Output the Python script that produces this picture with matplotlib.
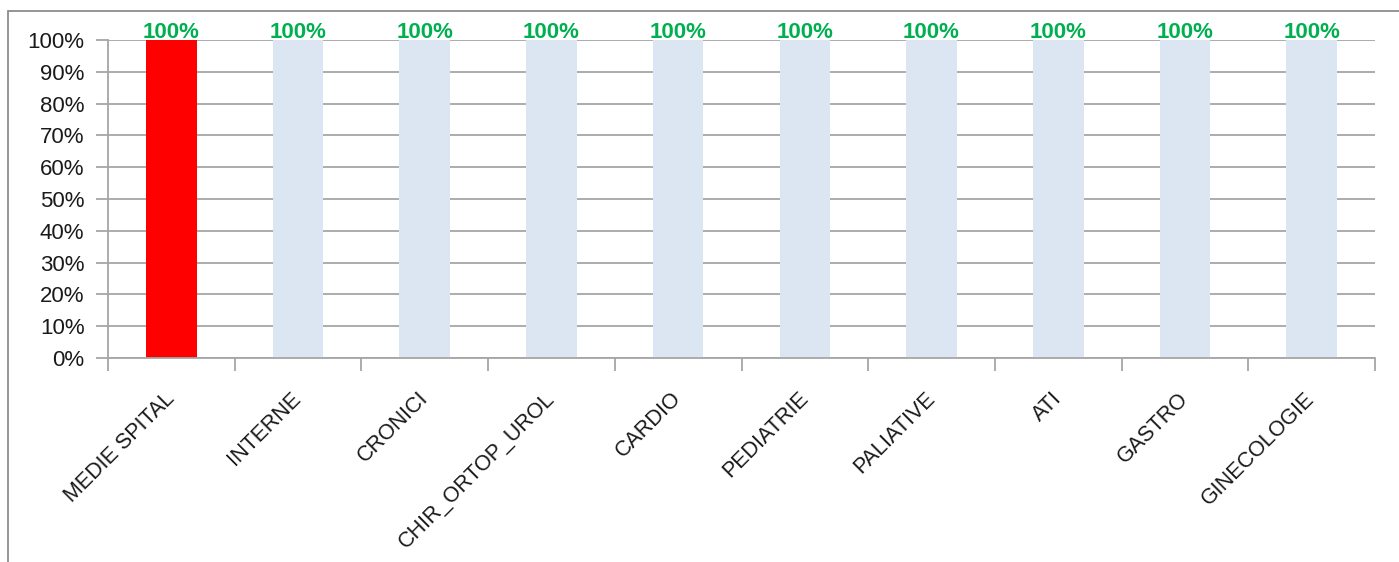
import numpy as np
import matplotlib.pyplot as plt
from matplotlib.patches import Rectangle
from matplotlib.ticker import PercentFormatter, FixedLocator

categories = ["MEDIE SPITAL", "INTERNE", "CRONICI", "CHIR_ORTOP_UROL", "CARDIO",
              "PEDIATRIE", "PALIATIVE", "ATI", "GASTRO", "GINECOLOGIE"]
values = [100, 100, 100, 100, 100, 100, 100, 100, 100, 100]
bar_colors = ["#FF0000"] + ["#DCE6F2"] * 9

plt.rcParams['font.family'] = ['Liberation Sans', 'DejaVu Sans']

fig = plt.figure(figsize=(13.99, 5.62), dpi=100)
ax = fig.add_axes([108/1399, 1 - 358/562, (1375-108)/1399, (358-40)/562])

x = np.arange(len(categories))
ax.bar(x, values, width=0.4, color=bar_colors, zorder=2)

# data labels
for xi, v in zip(x, values):
    ax.text(xi, v - 0.8, f"{v}%", ha='center', va='bottom', color='#00B050',
            fontsize=16, fontweight='bold', zorder=3)

ax.set_xlim(-0.5, len(categories) - 0.5)
ax.set_ylim(0, 100)
ax.set_yticks(np.arange(0, 101, 10))
ax.yaxis.set_major_formatter(PercentFormatter(decimals=0))
ax.grid(axis='y', color='#A6A6A6', linewidth=1.3, zorder=0)
ax.set_axisbelow(True)

ax.set_xticks(x)
ax.set_xticklabels(categories, rotation=45, ha='right', va='center',
                   rotation_mode='anchor', fontsize=15.5, color='#1a1a1a')
ax.xaxis.set_minor_locator(FixedLocator(np.arange(-0.5, len(categories), 1)))
ax.tick_params(axis='x', which='major', length=0, pad=27)
ax.tick_params(axis='x', which='minor', length=9, width=1.3, color='#A6A6A6')
ax.tick_params(axis='y', length=9, width=1.3, color='#A6A6A6', labelsize=16,
               labelcolor='#1a1a1a', pad=8)

for s in ['top', 'right']:
    ax.spines[s].set_visible(False)
for s in ['left', 'bottom']:
    ax.spines[s].set_color('#A6A6A6')
    ax.spines[s].set_linewidth(1.3)

# outer chart frame
fig.patches.append(Rectangle((8/1399, -0.1), 1.2, 1.1 - 11/562, transform=fig.transFigure,
                             fill=False, edgecolor='#8C8C8C', linewidth=1.3))

fig.savefig("out.png", dpi=100)
